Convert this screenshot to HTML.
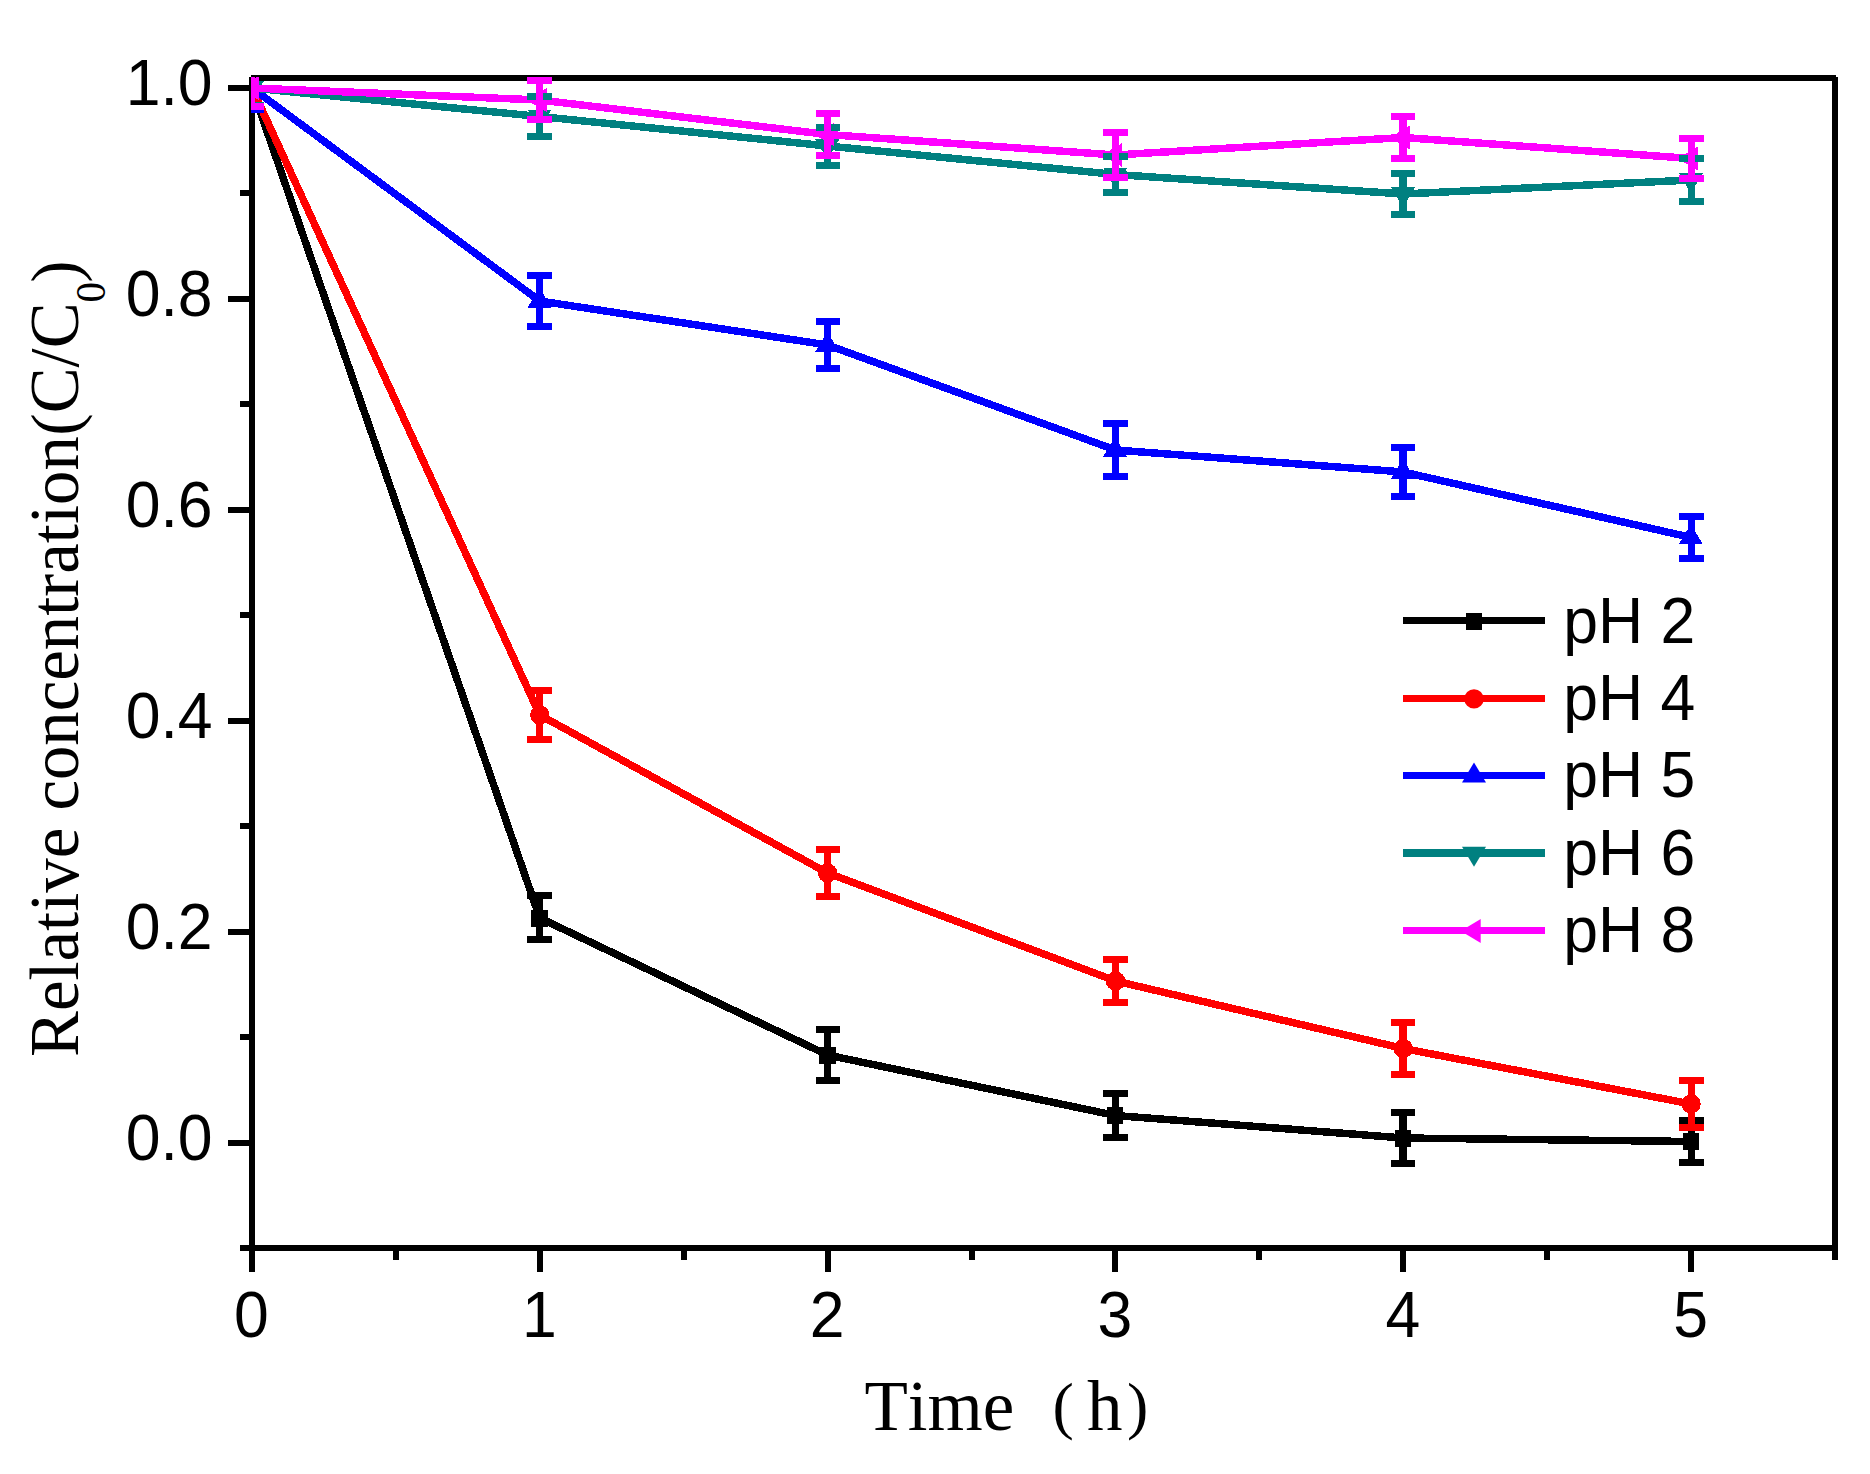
<!DOCTYPE html>
<html lang="en"><head><meta charset="utf-8"><title>Relative concentration vs time</title>
<style>html,body{margin:0;padding:0;background:#fff}body{width:1870px;height:1474px;overflow:hidden}svg{display:block}text{font-kerning:none}.t{font-family:"Liberation Sans", sans-serif;fill:#000}.s{font-family:"Liberation Serif", serif;fill:#000}</style></head><body>
<svg width="1870" height="1474" viewBox="0 0 1870 1474">
<rect x="0" y="0" width="1870" height="1474" fill="#fff"/>
<g fill="#000" shape-rendering="crispEdges">
<rect x="249" y="77" width="6" height="1174"/>
<rect x="1832" y="77" width="6" height="1174"/>
<rect x="251" y="75" width="1585" height="6"/>
<rect x="249" y="1245" width="1589" height="6"/>
<rect x="240" y="1245" width="10" height="6"/>
<rect x="228" y="1140" width="22" height="6"/>
<rect x="240" y="1034" width="10" height="6"/>
<rect x="228" y="929" width="22" height="6"/>
<rect x="240" y="823" width="10" height="6"/>
<rect x="228" y="718" width="22" height="6"/>
<rect x="240" y="612" width="10" height="6"/>
<rect x="228" y="507" width="22" height="6"/>
<rect x="240" y="401" width="10" height="6"/>
<rect x="228" y="296" width="22" height="6"/>
<rect x="240" y="190" width="10" height="6"/>
<rect x="228" y="85" width="22" height="6"/>
<rect x="249" y="1250" width="6" height="22"/>
<rect x="393" y="1250" width="6" height="10"/>
<rect x="537" y="1250" width="6" height="22"/>
<rect x="681" y="1250" width="6" height="10"/>
<rect x="825" y="1250" width="6" height="22"/>
<rect x="969" y="1250" width="6" height="10"/>
<rect x="1112" y="1250" width="6" height="22"/>
<rect x="1256" y="1250" width="6" height="10"/>
<rect x="1400" y="1250" width="6" height="22"/>
<rect x="1544" y="1250" width="6" height="10"/>
<rect x="1688" y="1250" width="6" height="22"/>
<rect x="1832" y="1250" width="6" height="10"/>
</g>
<g class="t" font-size="62.5">
<text transform="translate(212.5,105.4) scale(1,1.04)" text-anchor="end">1.0</text>
<text transform="translate(212.5,316.3) scale(1,1.04)" text-anchor="end">0.8</text>
<text transform="translate(212.5,527.2) scale(1,1.04)" text-anchor="end">0.6</text>
<text transform="translate(212.5,738.1) scale(1,1.04)" text-anchor="end">0.4</text>
<text transform="translate(212.5,949.0) scale(1,1.04)" text-anchor="end">0.2</text>
<text transform="translate(212.5,1159.9) scale(1,1.04)" text-anchor="end">0.0</text>
<text transform="translate(251.5,1336.5) scale(1,1.04)" text-anchor="middle">0</text>
<text transform="translate(539.3,1336.5) scale(1,1.04)" text-anchor="middle">1</text>
<text transform="translate(827.1,1336.5) scale(1,1.04)" text-anchor="middle">2</text>
<text transform="translate(1115.0,1336.5) scale(1,1.04)" text-anchor="middle">3</text>
<text transform="translate(1402.8,1336.5) scale(1,1.04)" text-anchor="middle">4</text>
<text transform="translate(1690.6,1336.5) scale(1,1.04)" text-anchor="middle">5</text>
</g>
<g class="s">
<text transform="translate(78,1057) rotate(-90)" font-size="68.8">Relative concentration<tspan font-size="67" dx="0.5">(</tspan>C/C<tspan font-size="41.28" dy="27">0</tspan><tspan dy="-27" dx="-1" font-size="67">)</tspan></text>
<text y="1430" font-size="71"><tspan x="864.5">Time</tspan><tspan x="1052.5" y="1427" font-size="64">(</tspan><tspan x="1087" y="1430">h</tspan><tspan x="1127" y="1427" font-size="64">)</tspan></text>
</g>
<defs><clipPath id="c"><rect x="251" y="77" width="1585" height="1172"/></clipPath></defs>
<g clip-path="url(#c)" shape-rendering="crispEdges">
<g fill="#000000" stroke="none">
<polyline points="252.0,88.0 539.8,918.0 827.6,1055.0 1115.5,1115.5 1403.3,1138.0 1691.1,1141.5" fill="none" stroke="#000000" stroke-width="7.5" stroke-linejoin="round"/>
<rect x="243.45" y="79.50" width="16.5" height="17" shape-rendering="crispEdges"/>
<rect x="531.27" y="909.50" width="16.5" height="17" shape-rendering="crispEdges"/>
<rect x="819.09" y="1046.50" width="16.5" height="17" shape-rendering="crispEdges"/>
<rect x="1106.90" y="1107.00" width="16.5" height="17" shape-rendering="crispEdges"/>
<rect x="1394.72" y="1129.50" width="16.5" height="17" shape-rendering="crispEdges"/>
<rect x="1682.54" y="1133.00" width="16.5" height="17" shape-rendering="crispEdges"/>
</g>
<g fill="#ff0000" stroke="none">
<polyline points="252.0,88.0 539.8,715.0 827.6,873.0 1115.5,981.0 1403.3,1048.5 1691.1,1104.0" fill="none" stroke="#ff0000" stroke-width="7.5" stroke-linejoin="round"/>
<circle cx="252.0" cy="88.0" r="9.7"/>
<circle cx="539.8" cy="715.0" r="9.7"/>
<circle cx="827.6" cy="873.0" r="9.7"/>
<circle cx="1115.5" cy="981.0" r="9.7"/>
<circle cx="1403.3" cy="1048.5" r="9.7"/>
<circle cx="1691.1" cy="1104.0" r="9.7"/>
</g>
<g fill="#0000ff" stroke="none">
<polyline points="252.0,88.0 539.8,301.0 827.6,345.0 1115.5,450.0 1403.3,472.0 1691.1,537.5" fill="none" stroke="#0000ff" stroke-width="7.5" stroke-linejoin="round"/>
<polygon points="251.7,74.7 239.7,94.7 263.7,94.7"/>
<polygon points="539.5,287.7 527.5,307.7 551.5,307.7"/>
<polygon points="827.3,331.7 815.3,351.7 839.3,351.7"/>
<polygon points="1115.2,436.7 1103.2,456.7 1127.2,456.7"/>
<polygon points="1403.0,458.7 1391.0,478.7 1415.0,478.7"/>
<polygon points="1690.8,524.2 1678.8,544.2 1702.8,544.2"/>
</g>
<g fill="#008080" stroke="none">
<polyline points="252.0,88.0 539.8,116.5 827.6,146.0 1115.5,174.5 1403.3,194.0 1691.1,180.0" fill="none" stroke="#008080" stroke-width="7.5" stroke-linejoin="round"/>
<polygon points="251.7,101.3 239.7,81.3 263.7,81.3"/>
<polygon points="539.5,129.8 527.5,109.8 551.5,109.8"/>
<polygon points="827.3,159.3 815.3,139.3 839.3,139.3"/>
<polygon points="1115.2,187.8 1103.2,167.8 1127.2,167.8"/>
<polygon points="1403.0,207.3 1391.0,187.3 1415.0,187.3"/>
<polygon points="1690.8,193.3 1678.8,173.3 1702.8,173.3"/>
</g>
<g fill="#ff00ff" stroke="none">
<polyline points="252.0,88.0 539.8,100.0 827.6,134.5 1115.5,155.0 1403.3,137.5 1691.1,158.5" fill="none" stroke="#ff00ff" stroke-width="7.5" stroke-linejoin="round"/>
<polygon points="238.7,88.0 258.7,76.0 258.7,100.0"/>
<polygon points="526.5,100.0 546.5,88.0 546.5,112.0"/>
<polygon points="814.3,134.5 834.3,122.5 834.3,146.5"/>
<polygon points="1102.1,155.0 1122.1,143.0 1122.1,167.0"/>
<polygon points="1389.9,137.5 1409.9,125.5 1409.9,149.5"/>
<polygon points="1677.8,158.5 1697.8,146.5 1697.8,170.5"/>
</g>
<g fill="#000000" stroke="none">
<rect x="248" y="70.0" width="7" height="36.0"/>
<rect x="240" y="66" width="24" height="7"/>
<rect x="240" y="102" width="24" height="7"/>
<rect x="536" y="896.0" width="7" height="44.0"/>
<rect x="527" y="892" width="25" height="7"/>
<rect x="527" y="936" width="25" height="7"/>
<rect x="824" y="1029.5" width="7" height="51.0"/>
<rect x="816" y="1026" width="24" height="7"/>
<rect x="816" y="1077" width="24" height="7"/>
<rect x="1112" y="1093.5" width="7" height="44.0"/>
<rect x="1103" y="1090" width="25" height="7"/>
<rect x="1103" y="1134" width="25" height="7"/>
<rect x="1399" y="1112.5" width="8" height="51.0"/>
<rect x="1391" y="1109" width="24" height="7"/>
<rect x="1391" y="1160" width="24" height="7"/>
<rect x="1688" y="1120.5" width="7" height="42.0"/>
<rect x="1679" y="1117" width="25" height="7"/>
<rect x="1679" y="1159" width="25" height="7"/>
</g>
<g fill="#ff0000" stroke="none">
<rect x="248" y="70.0" width="7" height="36.0"/>
<rect x="240" y="66" width="24" height="7"/>
<rect x="240" y="102" width="24" height="7"/>
<rect x="536" y="690.5" width="7" height="49.0"/>
<rect x="527" y="687" width="25" height="7"/>
<rect x="527" y="736" width="25" height="7"/>
<rect x="824" y="849.5" width="7" height="47.0"/>
<rect x="816" y="846" width="24" height="7"/>
<rect x="816" y="893" width="24" height="7"/>
<rect x="1112" y="959.5" width="7" height="43.0"/>
<rect x="1103" y="956" width="25" height="7"/>
<rect x="1103" y="999" width="25" height="7"/>
<rect x="1399" y="1022.5" width="8" height="52.0"/>
<rect x="1391" y="1019" width="24" height="7"/>
<rect x="1391" y="1071" width="24" height="7"/>
<rect x="1688" y="1080.5" width="7" height="47.0"/>
<rect x="1679" y="1077" width="25" height="7"/>
<rect x="1679" y="1124" width="25" height="7"/>
</g>
<g fill="#0000ff" stroke="none">
<rect x="248" y="67.0" width="7" height="42.0"/>
<rect x="240" y="64" width="24" height="7"/>
<rect x="240" y="106" width="24" height="7"/>
<rect x="536" y="275.5" width="7" height="51.0"/>
<rect x="527" y="272" width="25" height="7"/>
<rect x="527" y="323" width="25" height="7"/>
<rect x="824" y="321.5" width="7" height="47.0"/>
<rect x="816" y="318" width="24" height="7"/>
<rect x="816" y="365" width="24" height="7"/>
<rect x="1112" y="423.5" width="7" height="53.0"/>
<rect x="1103" y="420" width="25" height="7"/>
<rect x="1103" y="473" width="25" height="7"/>
<rect x="1399" y="447.5" width="8" height="49.0"/>
<rect x="1391" y="444" width="24" height="7"/>
<rect x="1391" y="493" width="24" height="7"/>
<rect x="1688" y="516.5" width="7" height="42.0"/>
<rect x="1679" y="513" width="25" height="7"/>
<rect x="1679" y="555" width="25" height="7"/>
</g>
<g fill="#008080" stroke="none">
<rect x="248" y="70.5" width="7" height="35.0"/>
<rect x="240" y="67" width="24" height="7"/>
<rect x="240" y="102" width="24" height="7"/>
<rect x="536" y="96.5" width="7" height="40.0"/>
<rect x="527" y="93" width="25" height="7"/>
<rect x="527" y="133" width="25" height="7"/>
<rect x="824" y="127.0" width="7" height="38.0"/>
<rect x="816" y="124" width="24" height="7"/>
<rect x="816" y="162" width="24" height="7"/>
<rect x="1112" y="156.5" width="7" height="36.0"/>
<rect x="1103" y="153" width="25" height="7"/>
<rect x="1103" y="189" width="25" height="7"/>
<rect x="1399" y="173.5" width="8" height="41.0"/>
<rect x="1391" y="170" width="24" height="7"/>
<rect x="1391" y="211" width="24" height="7"/>
<rect x="1688" y="158.5" width="7" height="43.0"/>
<rect x="1679" y="155" width="25" height="7"/>
<rect x="1679" y="198" width="25" height="7"/>
</g>
<g fill="#ff00ff" stroke="none">
<rect x="248" y="69.5" width="7" height="37.0"/>
<rect x="240" y="66" width="24" height="7"/>
<rect x="240" y="103" width="24" height="7"/>
<rect x="536" y="80.5" width="7" height="39.0"/>
<rect x="527" y="77" width="25" height="7"/>
<rect x="527" y="116" width="25" height="7"/>
<rect x="824" y="113.5" width="7" height="42.0"/>
<rect x="816" y="110" width="24" height="7"/>
<rect x="816" y="152" width="24" height="7"/>
<rect x="1112" y="132.5" width="7" height="45.0"/>
<rect x="1103" y="129" width="25" height="7"/>
<rect x="1103" y="174" width="25" height="7"/>
<rect x="1399" y="116.5" width="8" height="42.0"/>
<rect x="1391" y="113" width="24" height="7"/>
<rect x="1391" y="155" width="24" height="7"/>
<rect x="1688" y="138.5" width="7" height="40.0"/>
<rect x="1679" y="135" width="25" height="7"/>
<rect x="1679" y="175" width="25" height="7"/>
</g>
</g>
<g fill="#000000">
<rect x="1403" y="617" width="142" height="7" shape-rendering="crispEdges"/>
<rect x="1465.75" y="612.50" width="16.5" height="17" shape-rendering="crispEdges"/>
</g>
<text class="t" transform="translate(1563.3,642.7) scale(1,1.04)" font-size="62.5">pH 2</text>
<g fill="#ff0000">
<rect x="1403" y="695" width="142" height="7" shape-rendering="crispEdges"/>
<circle cx="1474.0" cy="698.9" r="9.7"/>
</g>
<text class="t" transform="translate(1563.3,720.0) scale(1,1.04)" font-size="62.5">pH 4</text>
<g fill="#0000ff">
<rect x="1403" y="772" width="142" height="7" shape-rendering="crispEdges"/>
<polygon points="1474.0,762.6 1462.0,782.6 1486.0,782.6"/>
</g>
<text class="t" transform="translate(1563.3,797.3) scale(1,1.04)" font-size="62.5">pH 5</text>
<g fill="#008080">
<rect x="1403" y="849" width="142" height="8" shape-rendering="crispEdges"/>
<polygon points="1474.0,866.8 1462.0,846.8 1486.0,846.8"/>
</g>
<text class="t" transform="translate(1563.3,874.5) scale(1,1.04)" font-size="62.5">pH 6</text>
<g fill="#ff00ff">
<rect x="1403" y="927" width="142" height="7" shape-rendering="crispEdges"/>
<polygon points="1460.7,931.0 1480.7,919.0 1480.7,943.0"/>
</g>
<text class="t" transform="translate(1563.3,951.5) scale(1,1.04)" font-size="62.5">pH 8</text>
</svg></body></html>
